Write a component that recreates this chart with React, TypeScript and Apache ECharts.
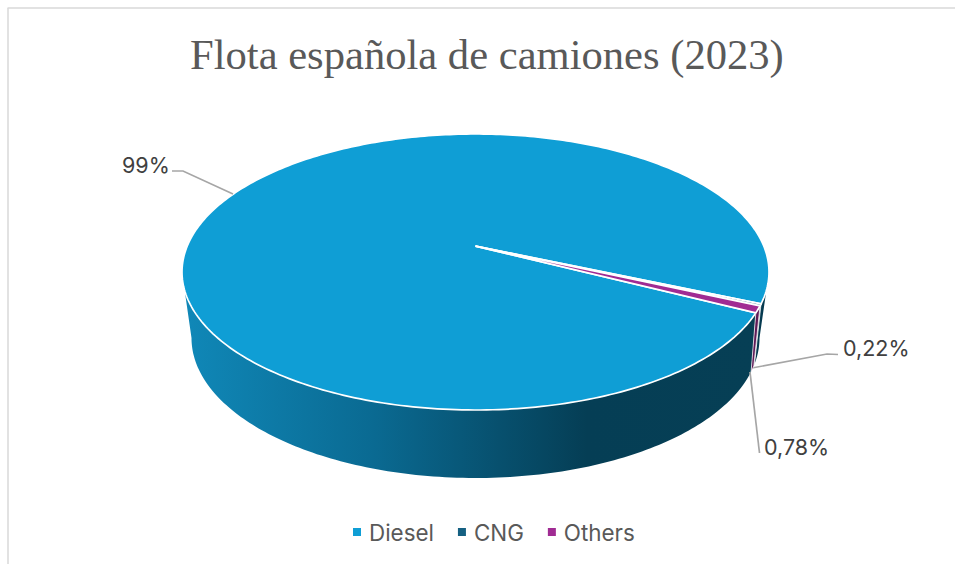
import React, { useEffect, useRef } from "react";
import * as echarts from "echarts";

const titleText = "Flota española de camiones (2023)";
const categories = ["Diesel", "CNG", "Others"];
const shares = [99, 0.22, 0.78];
const labelTexts = ["99%", "0,22%", "0,78%"];
const topColors = ["#0F9ED5", "#156082", "#A02B93"];

// Layout of the tilted disc, in pixels
const TOP = { cx: 475.5, cy: 272, rx: 293.5, ry: 138 };
const BOTTOM = { cx: 475.5, cy: 338, rx: 284, ry: 140 };
const APEX_SHIFT = 0.188; // perspective shift of the disc centre
const FIRST_ANGLE = 27.3; // degrees below the horizontal, clockwise

const LABELS = [
  { x: 122, y: 165, line: [[172, 171], [183, 171], [233, 194]] },
  { x: 843, y: 348, line: [[752, 368], [827, 354], [838, 354.5]] },
  { x: 764, y: 447, line: [[750, 372], [759.5, 453]] },
];

const rad = (d: number) => (d * Math.PI) / 180;
const total = shares.reduce((a, b) => a + b, 0);

function sliceRange(i: number): [number, number] {
  let start = FIRST_ANGLE;
  for (let k = 0; k < i; k++) start += (shares[k] / total) * 360;
  return [start, start + (shares[i] / total) * 360];
}

// disc angle -> position in the unit ellipse under perspective
function project(deg: number): [number, number] {
  const u = Math.cos(rad(deg));
  const v = Math.sin(rad(deg));
  const k = APEX_SHIFT;
  const d = 1 - k * v;
  return [(u * Math.sqrt(1 - k * k)) / d, (v - k) / d];
}

function topPoint(deg: number): number[] {
  const [u, v] = project(deg);
  return [TOP.cx + TOP.rx * u, TOP.cy + TOP.ry * v];
}

function ellipseAngle(deg: number): number {
  const [u, v] = project(deg);
  let a = Math.atan2(v, u);
  if (a < 0) a += Math.PI * 2;
  return a;
}

function wallPolygon(a0: number, a1: number): number[][] {
  const pts: number[][] = [];
  const n = Math.max(2, Math.ceil(Math.abs(a1 - a0) / rad(1)));
  for (let i = 0; i <= n; i++) {
    const a = a0 + ((a1 - a0) * i) / n;
    pts.push([TOP.cx + TOP.rx * Math.cos(a), TOP.cy + TOP.ry * Math.sin(a)]);
  }
  for (let i = n; i >= 0; i--) {
    const a = a0 + ((a1 - a0) * i) / n;
    const b = a - 0.1 * Math.sin(2 * a);
    pts.push([BOTTOM.cx + BOTTOM.rx * Math.cos(b), BOTTOM.cy + BOTTOM.ry * Math.sin(b)]);
  }
  return pts;
}

function topPolygon(d0: number, d1: number): number[][] {
  const pts: number[][] = [[TOP.cx, TOP.cy - TOP.ry * APEX_SHIFT]];
  const n = Math.max(2, Math.ceil(Math.abs(d1 - d0)));
  for (let i = 0; i <= n; i++) pts.push(topPoint(d0 + ((d1 - d0) * i) / n));
  return pts;
}

const wallGradient = {
  type: "linear",
  x: 183,
  y: 0,
  x2: 760,
  y2: 0,
  global: true,
  colorStops: [
    { offset: 0, color: "#1088B8" },
    { offset: 0.33, color: "#0A6A92" },
    { offset: 0.7, color: "#053E55" },
    { offset: 1, color: "#063F55" },
  ],
};

function labelChildren(i: number) {
  const l = LABELS[i];
  return [
    {
      type: "polyline",
      shape: { points: l.line },
      style: { stroke: "#A6A6A6", lineWidth: 1.7, fill: "none" },
    },
    {
      type: "text",
      style: {
        text: labelTexts[i],
        x: l.x,
        y: l.y,
        align: "left",
        verticalAlign: "middle",
        fontFamily: "Inter",
        fontSize: 21.5,
        fill: "#404040",
      },
    },
  ];
}

const walls = (i: number) => {
  const [d0, d1] = sliceRange(i);
  if (i === 0) {
    const a0 = ellipseAngle(d0);
    return [
      {
        type: "polygon",
        shape: { points: wallPolygon(a0, Math.PI) },
        style: { fill: wallGradient },
      },
      {
        type: "polygon",
        shape: { points: wallPolygon(0, ellipseAngle(d1)) },
        style: { fill: "#063A50" },
      },
    ];
  }
  const fill = i === 1 ? "#0B3B50" : "#5E1A57";
  return [
    {
      type: "polygon",
      shape: { points: wallPolygon(ellipseAngle(d0), ellipseAngle(d1)) },
      style: { fill, stroke: "#FFFFFF", lineWidth: 0.7 },
    },
  ];
};

const renderSlice = (i: number) => () => {
  const [d0, d1] = sliceRange(i);
  return {
    type: "group",
    children: [
      ...walls(i),
      {
        type: "polygon",
        shape: { points: topPolygon(d0, d1) },
        style: { fill: topColors[i], stroke: "#FFFFFF", lineWidth: 1.7 },
      },
      ...labelChildren(i),
    ],
  };
};

export default function App() {
  const ref = useRef<HTMLDivElement>(null);
  useEffect(() => {
    document.body.style.margin = "0";
    const chart = echarts.init(ref.current!, null, { renderer: "svg" });
    chart.setOption({
      animation: false,
      backgroundColor: "#FFFFFF",
      title: {
        text: titleText,
        left: 185,
        top: 28,
        textStyle: {
          fontFamily: "Liberation Serif",
          fontSize: 42.6,
          fontWeight: "normal",
          color: "#595959",
        },
      },
      legend: {
        data: categories,
        left: 348,
        top: 516,
        icon: "rect",
        itemWidth: 8,
        itemHeight: 8,
        itemGap: 24,
        selectedMode: false,
        textStyle: { fontFamily: "Inter", fontSize: 22.4, color: "#595959", padding: [0, 0, 0, 3] },
      },
      graphic: [
        { type: "line", shape: { x1: 7.5, y1: 8, x2: 955, y2: 8 }, style: { stroke: "#D9D9D9", lineWidth: 1.5 } },
        { type: "line", shape: { x1: 8, y1: 8, x2: 8, y2: 564 }, style: { stroke: "#D9D9D9", lineWidth: 1.5 } },
      ],
      series: categories.map((name, i) => ({
        type: "custom",
        name,
        coordinateSystem: "none",
        silent: true,
        itemStyle: { color: topColors[i] },
        data: [[shares[i]]],
        renderItem: renderSlice(i),
      })),
    });
    return () => chart.dispose();
  }, []);
  return <div ref={ref} style={{ width: 955, height: 564 }} />;
}
